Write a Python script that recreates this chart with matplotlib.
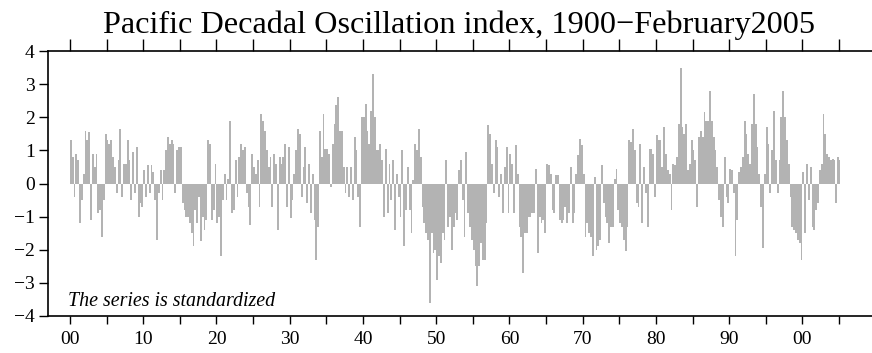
import numpy as np
import matplotlib.pyplot as plt

plt.rcParams['font.family'] = ['Liberation Serif', 'DejaVu Serif']

# PDO index at four values per year (quarters)
pdo_1900s = [1.3, 0.8, -0.4, 0.9, 0.7, -1.2, -0.5, 0.3, 1.6, 1.3, 1.55, -1.1,
             0.9, 0.5, 0.9, -0.9, -0.8, -1.6, -0.5, 1.5, 1.3, 1.2, 1.3, 0.8,
             0.5, -0.3, 0.7, 1.66, -0.4, 0.6, 0.6, 1.3, 0.7, -0.5, 0.95, -0.3,
             1.1, -1.0, -0.6, -0.7]
pdo_1910s = [0.4, -0.4, 0.55, -0.3, 0.55, 0.35, -0.5, -1.7, -0.3, 0.4, -0.5, 0.4,
             1.0, 1.4, 1.2, 1.3, 1.2, -0.3, 1.0, 1.1, 1.1, -0.6, -0.8, -1.0,
             -1.0, -1.2, -1.5, -1.9, -0.8, -1.2, -0.4, -1.75, -1.0, -1.4, -1.1, 1.3,
             1.2, -1.1, -0.8, 0.6]
pdo_1920s = [-1.2, -1.0, -2.2, -0.5, 0.3, -0.5, 0.15, 1.9, -0.9, -0.8, 0.7, -0.4,
             0.8, 1.2, 1.0, 1.1, -0.3, -0.7, -1.25, 0.9, 0.5, 0.3, 0.7, -0.7,
             2.1, 1.9, 1.6, 1.0, 0.5, 0.8, -0.7, 0.9, 0.6, -1.4, 0.8, 0.6,
             0.8, 1.2, -0.7, 1.1]
pdo_1930s = [-1.05, -0.5, 0.3, 1.0, 1.66, 1.5, -0.4, 0.5, 1.1, -0.6, 0.6, -0.9,
             0.3, -1.1, -2.3, -1.3, 1.6, 0.8, 2.1, 1.05, 1.05, 0.9, -0.1, 1.2,
             1.8, 2.36, 2.6, 1.6, 1.6, 0.5, -0.3, 0.5, -0.4, 0.5, -0.5, 1.4,
             1.0, -0.4, -1.3, 2.0]
pdo_1940s = [2.0, 2.4, 1.6, 1.2, 2.2, 3.3, 2.0, 1.0, 1.0, 1.2, 0.7, -1.0,
             1.05, -0.9, 0.6, -0.5, 0.7, -1.4, 0.3, -0.4, -1.0, 1.0, -1.9, -0.8,
             0.5, -0.8, -1.5, 0.1, 1.2, 1.0, 1.66, 0.8, -0.7, -1.2, -1.5, -1.7,
             -3.6, -1.5, -2.1, -2.0]
pdo_1950s = [-2.9, -2.2, -2.4, -1.5, -1.7, 0.7, -1.3, -1.0, -2.0, -1.3, -0.9, -1.1,
             0.4, 0.7, -0.5, -1.6, 0.95, -0.9, -1.3, -1.7, -2.0, -2.5, -3.1, -2.5,
             -1.8, -2.3, -2.3, -1.2, 1.76, 1.5, 0.6, -0.3, 1.3, 1.1, -0.4, 0.3,
             -0.9, 0.5, 1.1, -0.9]
pdo_1960s = [0.9, 0.6, -0.9, 1.15, 0.3, -1.3, -1.6, -2.7, -1.5, -1.5, -1.0, -1.0,
             -0.9, -0.9, 0.45, -2.1, -1.0, -1.2, -1.1, -1.5, 0.6, 0.55, 0.3, -0.8,
             -0.9, 0.25, 0.25, -1.1, -1.2, -1.1, -0.7, -1.2, -0.9, 0.5, -1.2, -0.9,
             0.3, 0.85, 1.35, 1.15]
pdo_1970s = [0.3, -1.6, -1.2, -1.5, -1.6, -2.2, 0.2, -2.0, -1.9, -1.7, 0.55, -0.6,
             -1.0, -1.2, -1.8, -1.3, -1.3, 0.15, 0.45, -0.8, -1.2, -1.3, -1.7, -2.05,
             -1.3, 1.3, 1.25, 1.66, 1.0, -0.6, -0.7, 1.2, -1.2, 0.5, -0.3, -1.3,
             1.05, 1.05, 0.9, -0.4]
pdo_1980s = [1.46, 1.3, 1.3, 0.5, 1.7, 0.9, 0.4, 0.3, -0.8, 0.6, 0.55, 0.8,
             1.8, 3.5, 1.7, 1.5, 1.8, 0.4, 0.6, 1.3, 1.0, 0.7, -0.7, 1.4,
             1.6, 1.4, 2.16, 1.9, 1.9, 2.8, 1.9, 1.4, 1.0, 0.5, -0.5, -1.0,
             -1.3, 0.8, -0.4, -0.6]
pdo_1990s = [0.45, 0.4, -0.3, -2.2, -1.1, 0.35, 0.5, 0.8, 1.9, 1.5, 0.9, 0.6,
             1.8, 2.7, 1.8, 1.1, 0.3, -0.7, -1.95, 0.3, 1.7, 1.2, -0.3, 1.0,
             2.2, 0.7, -0.3, 0.7, 2.0, 2.8, 2.0, 1.3, 0.6, -0.4, -1.3, -1.4,
             -1.5, -1.7, -1.8, -2.3]
# 2000-2004, then Jan-Feb 2005
pdo_2000s = [0.35, -1.5, 0.6, -0.5, 0.5, -1.3, -1.4, -0.8, -0.6, 0.4, 0.6, 2.1,
             1.5, 0.9, 0.8, 0.7, 0.75, 0.7, -0.6, 0.8, 0.7]

tick_years = list(range(1900, 2006, 5))
tick_labels = ['00', '', '10', '', '20', '', '30', '', '40', '', '50', '',
               '60', '', '70', '', '80', '', '90', '', '00', '']

values = np.array(pdo_1900s + pdo_1910s + pdo_1920s + pdo_1930s + pdo_1940s
                  + pdo_1950s + pdo_1960s + pdo_1970s + pdo_1980s + pdo_1990s
                  + pdo_2000s)
t = 1900 + np.arange(len(values)) * 0.25
widths = np.full(len(values), 0.25)
widths[-1] = 2 / 12

fig = plt.figure(figsize=(8.72, 3.53), dpi=100)
ax = fig.add_axes([48 / 872, 1 - 316 / 353, 1 - 48 / 872, 265 / 353])

ax.bar(t, values, width=widths, align='edge', color='#b3b3b3', linewidth=0)

ax.set_xlim(1897.0, 2009.5)
ax.set_ylim(-4, 4)
ax.set_yticks(range(-4, 5))
ax.set_xticks(tick_years)
ax.set_xticklabels(tick_labels)
ax.tick_params(axis='both', direction='out', length=6.5, width=1.0, labelsize=14,
               pad=3, top=True)
ax.tick_params(axis='x', which='major', pad=5, length=6)
for tl in ax.xaxis.get_ticklines()[1::2]:
    tl.set_markersize(9)
for side in ['left', 'top', 'bottom']:
    ax.spines[side].set_linewidth(1.2)
ax.spines['right'].set_visible(False)

ax.text(1899.73, -3.70, 'The series is standardized', fontsize=14.4,
        style='italic', va='baseline')

fig.text(0.526, 1 - 33 / 353, 'Pacific Decadal Oscillation index, 1900\u2212February2005',
         fontsize=23.2, ha='center', va='baseline')

fig.savefig('out.png', dpi=100)
